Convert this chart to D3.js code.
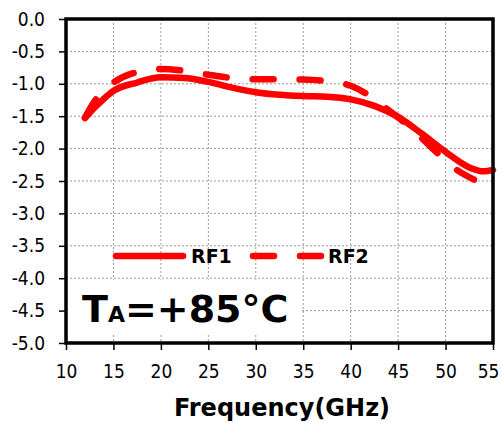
<!DOCTYPE html>
<html>
<head>
<meta charset="utf-8">
<script src="https://cdn.jsdelivr.net/npm/d3@7"></script>
<style>
  body { margin: 0; background: #fff; }
  svg text { font-family: "DejaVu Sans", Verdana, sans-serif; }
  .tick text { font-family: "DejaVu Sans Condensed", "DejaVu Sans", sans-serif; }
</style>
</head>
<body>
<div id="chart"></div>
<script>
// insertion loss vs frequency, TA = +85C

const freqRF1 = [12, 13, 14, 15, 17.5, 20, 22.5, 25, 27.5, 30, 32.5, 35, 37.5, 40, 42.5, 45, 47.5, 50, 52.5, 54, 55];
const lossRF1 = [-1.53, -1.37, -1.23, -1.11, -0.98, -0.90, -0.91, -0.97, -1.06, -1.13, -1.17, -1.19, -1.20, -1.24, -1.34, -1.51, -1.77, -2.05, -2.29, -2.35, -2.33];

const freqRF2 = [12, 13, 14, 15, 17, 20, 22.5, 25, 27.5, 30, 32.5, 35, 37.5, 40, 41.5, 43, 45, 47.5, 49, 51, 53];
const lossRF2 = [-1.52, -1.27, -1.10, -0.98, -0.84, -0.77, -0.80, -0.86, -0.91, -0.93, -0.93, -0.935, -0.96, -1.03, -1.14, -1.30, -1.52, -1.84, -2.05, -2.31, -2.48];

const xTicks = [10, 15, 20, 25, 30, 35, 40, 45, 50, 55];
const yTicks = [0, -0.5, -1, -1.5, -2, -2.5, -3, -3.5, -4, -4.5, -5];
const yTickLabels = ["0.0", "-0.5", "-1.0", "-1.5", "-2.0", "-2.5", "-3.0", "-3.5", "-4.0", "-4.5", "-5.0"];

const seriesNames = ["RF1", "RF2"];

const width = 501;
const height = 423;
const margin = { top: 19, right: 8, bottom: 80, left: 66 };

const svg = d3.select("#chart")
    .append("svg")
    .attr("width", width)
    .attr("height", height);

const x = d3.scaleLinear()
    .domain([10, 55])
    .range([margin.left, width - margin.right]);

const y = d3.scaleLinear()
    .domain([-5, 0])
    .range([height - margin.bottom, margin.top]);

// grid
const grid = svg.append("g").attr("class", "grid")
    .attr("stroke", "#9a9a9a")
    .attr("stroke-width", 1)
    .attr("stroke-dasharray", "2,2");

grid.selectAll(".vg")
    .data(xTicks.slice(1, -1))
    .enter()
    .append("line")
    .attr("x1", d => x(d)).attr("x2", d => x(d))
    .attr("y1", y(0)).attr("y2", y(-5));

grid.selectAll(".hg")
    .data(yTicks.slice(1, -1))
    .enter()
    .append("line")
    .attr("x1", x(10)).attr("x2", x(55))
    .attr("y1", d => y(d)).attr("y2", d => y(d));

// white box behind the temperature label
svg.append("rect")
    .attr("x", x(10))
    .attr("y", y(-4) + 1.5)
    .attr("width", x(35) - x(10) - 1.5)
    .attr("height", y(-5) - y(-4) - 10)
    .attr("fill", "#fff");

// curves
const line = d3.line()
    .x(d => x(d[0]))
    .y(d => y(d[1]))
    .curve(d3.curveMonotoneX);

svg.append("path")
    .datum(d3.zip(freqRF1, lossRF1))
    .attr("fill", "none")
    .attr("stroke", "#ff0000")
    .attr("stroke-width", 6.5)
    .attr("stroke-linecap", "round")
    .attr("d", line);

svg.append("path")
    .datum(d3.zip(freqRF2, lossRF2))
    .attr("fill", "none")
    .attr("stroke", "#ff0000")
    .attr("stroke-width", 6.5)
    .attr("stroke-linecap", "round")
    .attr("stroke-dasharray", "21,26")
    .attr("d", line);

// axes
const xAxis = svg.append("g")
    .attr("transform", `translate(0,${y(-5)})`)
    .call(d3.axisBottom(x).tickValues(xTicks).tickSize(7).tickPadding(15));

const yAxis = svg.append("g")
    .attr("transform", `translate(${x(10)},0)`)
    .call(d3.axisLeft(y).tickValues(yTicks).tickSize(7).tickPadding(14)
        .tickFormat((d, i) => yTickLabels[i]));

[xAxis, yAxis].forEach(a => {
    a.select(".domain").remove();
    a.selectAll(".tick line").attr("stroke", "#000").attr("stroke-width", 1.5);
    a.selectAll("text")
        .attr("font-family", null)
        .attr("font-size", 19)
        .attr("fill", "#000");
});

// last x label sits a bit left so it stays inside the picture
xAxis.selectAll(".tick text").filter(d => d === 55).attr("dx", -5);

// frame
svg.append("rect")
    .attr("x", x(10))
    .attr("y", y(0))
    .attr("width", x(55) - x(10))
    .attr("height", y(-5) - y(0))
    .attr("fill", "none")
    .attr("stroke", "#000")
    .attr("stroke-width", 3.5);

// legend
const legY = 256;
svg.append("line")
    .attr("x1", 116).attr("x2", 183)
    .attr("y1", legY).attr("y2", legY)
    .attr("stroke", "#ff0000")
    .attr("stroke-width", 6.5)
    .attr("stroke-linecap", "round");

svg.append("line")
    .attr("x1", 253).attr("x2", 321)
    .attr("y1", legY).attr("y2", legY)
    .attr("stroke", "#ff0000")
    .attr("stroke-width", 6.5)
    .attr("stroke-linecap", "round")
    .attr("stroke-dasharray", "21,26");

svg.selectAll(".legtext")
    .data(seriesNames)
    .enter()
    .append("text")
    .attr("x", (d, i) => i === 0 ? 191 : 328)
    .attr("y", legY + 7)
    .attr("font-size", 19)
    .attr("font-weight", "bold")
    .text(d => d);

// temperature label
const ta = svg.append("text")
    .attr("x", 82)
    .attr("y", 322)
    .attr("font-weight", "bold")
    .attr("font-size", 38);
ta.append("tspan").text("T");
ta.append("tspan").attr("font-size", 22).text("A");
ta.append("tspan").text("=+85°C");

// axis title
svg.append("text")
    .attr("x", 282)
    .attr("y", 416)
    .attr("text-anchor", "middle")
    .attr("font-size", 24)
    .attr("font-weight", "bold")
    .text("Frequency(GHz)");
</script>
</body>
</html>
